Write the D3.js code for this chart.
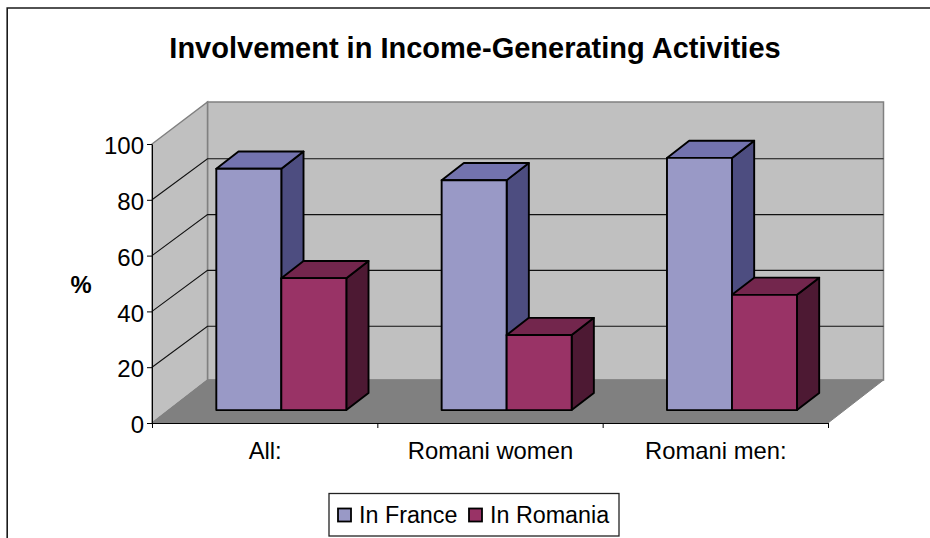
<!DOCTYPE html>
<html>
<head>
<meta charset="utf-8">
<script src="https://cdn.jsdelivr.net/npm/d3@7/dist/d3.min.js"></script>
<style>
html,body{margin:0;padding:0;background:#fff}
svg{display:block}
text{font-family:"Liberation Sans",Arial,sans-serif;fill:#000}
</style>
</head>
<body>
<svg id="chart" width="930" height="538"></svg>
<script>
const categories = ["All:", "Romani women", "Romani men:"];
const seriesNames = ["In France", "In Romania"];
const inFrance = [86.5, 82.4, 90.4];
const inRomania = [47.3, 26.9, 41.3];
const yTicks = [0, 20, 40, 60, 80, 100];
const titleText = "Involvement in Income-Generating Activities";
const yAxisLabel = "%";

const seriesValues = [inFrance, inRomania];
const faceColors = [
  {front: "#9999c6", top: "#7373ae", side: "#4d4d80"},
  {front: "#993366", top: "#73264d", side: "#4d1933"}
];

const svg = d3.select("#chart");

// Projection of the 3D box: depth 0 = front plane, 1 = back wall
const depthX = 55.5, depthY = -43, gridDepthY = -41, wallTopDepthY = -42;
const barDepthStart = 0.3, barDepthEnd = 0.7;
const x0 = d3.scaleBand().domain(categories).range([152, 828]).paddingInner(0.423).paddingOuter(0.2115);
const x1 = d3.scaleBand().domain(seriesNames).range([0, x0.bandwidth()]);
const y = d3.scaleLinear().domain([0, 100]).range([423, 144]);
const px = (xv, d) => xv + d * depthX;
const py = (v, d) => y(v) + d * depthY;
const pts = a => a.map(p => p.join(",")).join(" ");
const xL = 152, xR = 828;
const wallTop = y(100) + wallTopDepthY;

// Outer frame: only left and top edges are visible
svg.append("path").attr("d", "M7.2,538V8H930")
  .attr("fill", "none").attr("stroke", "#1a1a1a").attr("stroke-width", 1.6);

svg.append("text").attr("x", 475).attr("y", 58).attr("text-anchor", "middle")
  .attr("font-size", 29).attr("font-weight", "bold").text(titleText);

// Walls
svg.append("polygon").attr("fill", "#c0c0c0").attr("stroke", "#808080").attr("stroke-width", 1.5)
  .attr("points", pts([[px(xL,1),py(0,1)],[px(xR,1),py(0,1)],[px(xR,1),wallTop],[px(xL,1),wallTop]]));
svg.append("polygon").attr("fill", "#c0c0c0").attr("stroke", "#808080").attr("stroke-width", 1.5)
  .attr("points", pts([[px(xL,0),py(0,0)],[px(xL,1),py(0,1)],[px(xL,1),wallTop],[px(xL,0),py(100,0)]]));
svg.append("polygon").attr("fill", "#808080").attr("stroke", "#808080").attr("stroke-width", 1)
  .attr("points", pts([[px(xL,0),py(0,0)],[px(xR,0),py(0,0)],[px(xR,1),py(0,1)],[px(xL,1),py(0,1)]]));

// Gridlines
yTicks.filter(t => t > 0 && t < 100).forEach(t => {
  svg.append("path").attr("fill", "none").attr("stroke", "#111").attr("stroke-width", 1.1)
    .attr("d", d3.line()([[px(xL,0),y(t)],[px(xL,1),y(t)+gridDepthY],[px(xR,1),y(t)+gridDepthY]]));
});

// Bars
categories.forEach((c, i) => {
  seriesNames.forEach((s, j) => {
    const v = seriesValues[j][i];
    const l = x0(c) + x1(s), r = l + x1.bandwidth();
    const g = svg.append("g").attr("stroke", "#000").attr("stroke-width", 1.9).attr("stroke-linejoin", "round");
    const a = barDepthStart, b = barDepthEnd;
    g.append("polygon").attr("fill", faceColors[j].side)
      .attr("points", pts([[px(r,a),py(0,a)],[px(r,b),py(0,b)],[px(r,b),py(v,b)],[px(r,a),py(v,a)]]));
    g.append("polygon").attr("fill", faceColors[j].top)
      .attr("points", pts([[px(l,a),py(v,a)],[px(r,a),py(v,a)],[px(r,b),py(v,b)],[px(l,b),py(v,b)]]));
    g.append("polygon").attr("fill", faceColors[j].front)
      .attr("points", pts([[px(l,a),py(0,a)],[px(r,a),py(0,a)],[px(r,a),py(v,a)],[px(l,a),py(v,a)]]));
  });
});

// Y axis
const yAxis = d3.axisLeft(y).tickValues(yTicks).tickSize(5).tickSizeOuter(0).tickPadding(3);
const yg = svg.append("g").attr("transform", `translate(${xL},0)`).call(yAxis);
yg.selectAll("text").attr("font-size", 24).attr("dy", "0.4em").style("font-family", '"Liberation Sans",Arial,sans-serif');
yg.selectAll("line,path").attr("stroke", "#000");

// X axis
const xAxis = d3.axisBottom(d3.scalePoint().domain(d3.range(categories.length + 1)).range([xL, xR]))
  .tickSize(5).tickSizeOuter(0).tickFormat("");
const xg = svg.append("g").attr("transform", `translate(0,${y(0)})`).call(xAxis);
xg.selectAll("line,path").attr("stroke", "#000");

svg.selectAll(null).data(categories).enter().append("text")
  .attr("x", d => x0(d) + x0.bandwidth() / 2 + 0.5).attr("y", 459)
  .attr("text-anchor", "middle").attr("font-size", 23.8).text(d => d);

// Y axis title
svg.append("text").attr("x", 81).attr("y", 293).attr("text-anchor", "middle")
  .attr("font-size", 23.8).attr("font-weight", "bold").text(yAxisLabel);

// Legend
svg.append("rect").attr("x", 329).attr("y", 493.5).attr("width", 290).attr("height", 42.5)
  .attr("fill", "#fff").attr("stroke", "#222").attr("stroke-width", 1.3);
const legendX = [338, 469];
seriesNames.forEach((s, j) => {
  svg.append("rect").attr("x", legendX[j]).attr("y", 508.5).attr("width", 13).attr("height", 13)
    .attr("fill", faceColors[j].front).attr("stroke", "#000").attr("stroke-width", 1.8);
  svg.append("text").attr("x", legendX[j] + 21).attr("y", 522.5).attr("font-size", 23.3).text(s);
});
</script>
</body>
</html>
